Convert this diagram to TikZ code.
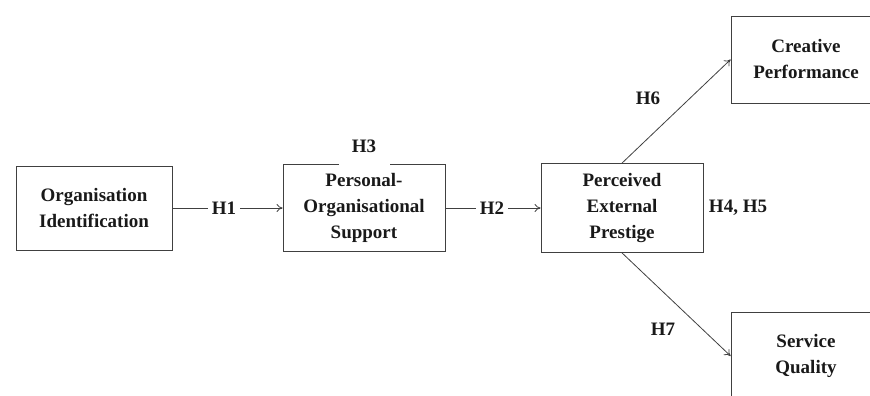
\documentclass[tikz,border=0pt]{standalone}
\usepackage{fontspec}
\setmainfont{Liberation Serif}
\usetikzlibrary{arrows.meta}
\begin{document}
\begin{tikzpicture}[x=1pt, y=-1pt, >={To[length=6pt,width=8pt]},
 box/.style={draw=black!75, line width=0.8pt, align=center, inner sep=0pt, text=black!90, font=\fontsize{19}{26}\selectfont\bfseries},
 hyp/.style={inner sep=4pt, text=black!90, font=\fontsize{19}{24}\selectfont\bfseries},
 link/.style={draw=black!75, line width=0.8pt}]
 % Khung hình
 \clip (0,0) rectangle (870,396);
 % Các khối
 \node[box, minimum width=156, minimum height=84] (oi) at (94,208) {Organisation\\Identification};
 \node[box, minimum width=162, minimum height=87] (pos) at (364,208) {Personal-\\Organisational\\Support};
 \node[box, minimum width=162, minimum height=89] (pep) at (622,208) {Perceived\\External\\Prestige};
 \node[box, minimum width=150, minimum height=87] (cp) at (806,59.5) {Creative\\Performance};
 \node[box, minimum width=150, minimum height=88] (sq) at (806,356) {Service\\Quality};
 % Nhãn giả thuyết
 \node[hyp] (h1) at (224,208) {H1};
 \node[hyp] (h2) at (492,208) {H2};
 \node[hyp, fill=white, minimum width=51, minimum height=38, anchor=south] (h3) at ([yshift=-1.5pt]pos.north) {H3};
 \node[hyp] (h45) at (738,208) {H4, H5};
 \node[hyp] (h6) at (648,98) {H6};
 \node[hyp] (h7) at (663,329) {H7};
 % Các mũi tên
 \draw[link] (oi) -- (h1);
 \draw[link, ->] (h1) -- (pos);
 \draw[link] (pos) -- (h2);
 \draw[link, ->] (h2) -- (pep);
 \draw[link, ->] (pep.north) -- (cp.west);
 \draw[link, ->] (pep.south) -- (sq.west);
\end{tikzpicture}
\end{document}
